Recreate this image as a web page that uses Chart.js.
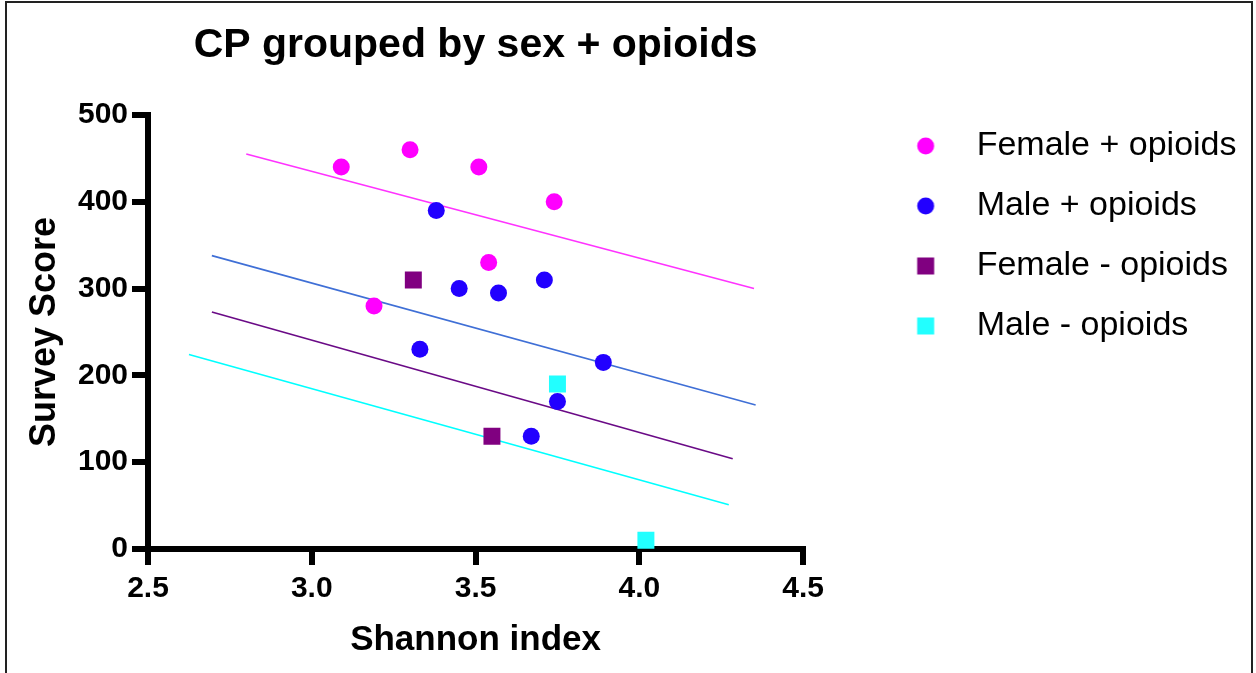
<!DOCTYPE html>
<html>
<head>
<meta charset="utf-8">
<title>CP grouped by sex + opioids</title>
<script src="https://cdn.jsdelivr.net/npm/chart.js@4/dist/chart.umd.min.js"></script>
<style>
  html, body { margin: 0; padding: 0; background: #fff; overflow: hidden; }
  #frame {
    position: absolute; left: 5px; top: 1px; width: 1244px; height: 700px;
    border: 2px solid #222; z-index: 0;
  }
  #wrap { position: absolute; left: 0; top: 0; width: 1256px; height: 673px; z-index: 1; }
</style>
</head>
<body>
<div id="frame"></div>
<div id="wrap"><canvas id="chart"></canvas></div>
<script>
// --- data ---
const seriesLabels = ['Female + opioids', 'Male + opioids', 'Female - opioids', 'Male - opioids'];

const femalePlusX = [3.09, 3.30, 3.51, 3.74, 3.54, 3.19];
const femalePlusY = [440, 460, 440, 400, 330, 280];

const malePlusX = [3.38, 3.45, 3.57, 3.71, 3.33, 3.89, 3.75, 3.67];
const malePlusY = [390, 300, 295, 310, 230, 215, 170, 130];

const femaleMinusX = [3.31, 3.55];
const femaleMinusY = [310, 130];

const maleMinusX = [3.75, 4.02];
const maleMinusY = [190, 10];

// fitted lines, end points
const fitFemalePlusX = [2.80, 4.35];
const fitFemalePlusY = [455, 300];
const fitMalePlusX = [2.695, 4.355];
const fitMalePlusY = [338, 166];
const fitFemaleMinusX = [2.695, 4.285];
const fitFemaleMinusY = [273, 104];
const fitMaleMinusX = [2.625, 4.273];
const fitMaleMinusY = [224, 51];

const xTickLabels = ['2.5', '3.0', '3.5', '4.0', '4.5'];
const yTickLabels = ['0', '100', '200', '300', '400', '500'];

// --- styles ---
const COLORS = {
  femalePlus:  '#ff00ff',
  malePlus:    '#2200ff',
  femaleMinus: '#800080',
  maleMinus:   '#22ffff',
};
const LINE_COLORS = {
  femalePlus:  '#ff33ff',
  malePlus:    '#3f6fd6',
  femaleMinus: '#6a0a86',
  maleMinus:   '#00ffff',
};
const FONT = "'Liberation Sans', Arial, Helvetica, sans-serif";

const CANVAS_W = 1256;
const PLOT_RIGHT = 802.5;
const LEGEND_FONT = 34;
const LEGEND_PAD = 26;
const LEGEND_BOX = 130.5;

const toPoints = (xs, ys) => xs.map((x, i) => ({ x, y: ys[i] }));

function scatterSet(label, xs, ys, color, style) {
  return {
    label,
    data: toPoints(xs, ys),
    backgroundColor: color,
    borderColor: color,
    borderWidth: 0,
    pointStyle: style,
    pointRadius: style === 'rect' ? 12 : 8.5,
    pointHoverRadius: style === 'rect' ? 12 : 8.5,
    showLine: false,
    order: 0,
  };
}

function fitSet(xs, ys, color) {
  return {
    label: 'fit',
    data: toPoints(xs, ys),
    borderColor: color,
    backgroundColor: color,
    borderWidth: 1.6,
    pointRadius: 0,
    pointHoverRadius: 0,
    showLine: true,
    fill: false,
    tension: 0,
    order: 10,
  };
}

// legend markers: small canvases, marker shifted right inside the box
function legendMarker(color, style) {
  const c = document.createElement('canvas');
  c.width = 84; c.height = 20;
  const g = c.getContext('2d');
  g.fillStyle = color;
  const cx = 42 + 31.25, cy = 10;
  if (style === 'rect') {
    g.fillRect(cx - 8.5, cy - 8.5, 17, 17);
  } else {
    g.beginPath();
    g.arc(cx, cy, 8.5, 0, Math.PI * 2);
    g.fill();
  }
  return c;
}

const legendMarkers = [
  legendMarker(COLORS.femalePlus, 'circle'),
  legendMarker(COLORS.malePlus, 'circle'),
  legendMarker(COLORS.femaleMinus, 'rect'),
  legendMarker(COLORS.maleMinus, 'rect'),
];

const ctx = document.getElementById('chart').getContext('2d');

// legend width follows its text, so pad the right side to keep the plot edge fixed
ctx.font = LEGEND_FONT + 'px ' + FONT;
const widestLabel = Math.max(...seriesLabels.map(t => ctx.measureText(t).width));
const legendWidth = Math.ceil(LEGEND_PAD + LEGEND_BOX + LEGEND_FONT / 2 + widestLabel + 10);
const rightPad = Math.max(0, CANVAS_W - PLOT_RIGHT - legendWidth);

new Chart(ctx, {
  type: 'scatter',
  data: {
    datasets: [
      scatterSet(seriesLabels[0], femalePlusX, femalePlusY, COLORS.femalePlus, 'circle'),
      scatterSet(seriesLabels[1], malePlusX, malePlusY, COLORS.malePlus, 'circle'),
      scatterSet(seriesLabels[2], femaleMinusX, femaleMinusY, COLORS.femaleMinus, 'rect'),
      scatterSet(seriesLabels[3], maleMinusX, maleMinusY, COLORS.maleMinus, 'rect'),
      fitSet(fitFemalePlusX, fitFemalePlusY, LINE_COLORS.femalePlus),
      fitSet(fitMalePlusX, fitMalePlusY, LINE_COLORS.malePlus),
      fitSet(fitFemaleMinusX, fitFemaleMinusY, LINE_COLORS.femaleMinus),
      fitSet(fitMaleMinusX, fitMaleMinusY, LINE_COLORS.maleMinus),
    ],
  },
  options: {
    responsive: true,
    maintainAspectRatio: false,
    animation: false,
    layout: { padding: { left: 0, top: 0, right: rightPad, bottom: 0 } },
    plugins: {
      title: {
        display: true,
        text: 'CP grouped by sex + opioids',
        color: '#000',
        fullSize: false,
        font: { family: FONT, size: 41, weight: 'bold', lineHeight: 1.2 },
        padding: { top: 21, bottom: 44.8 },
      },
      legend: {
        position: 'right',
        align: 'start',
        maxWidth: legendWidth,
        title: { display: true, text: '', font: { size: 10, lineHeight: 1.2 }, padding: { top: 91, bottom: 0 } },
        labels: {
          usePointStyle: true,
          pointStyleWidth: LEGEND_BOX,
          padding: LEGEND_PAD,
          color: '#000',
          font: { family: FONT, size: LEGEND_FONT },
          generateLabels: chart => Chart.defaults.plugins.legend.labels.generateLabels(chart)
            .filter(item => item.datasetIndex < 4)
            .map(item => Object.assign(item, { pointStyle: legendMarkers[item.datasetIndex] })),
        },
        onClick: null,
      },
      tooltip: { enabled: false },
    },
    scales: {
      x: {
        type: 'linear',
        position: 'bottom',
        min: 2.5,
        max: 4.5,
        afterFit: scale => { scale.height = 124; },
        border: { display: true, color: '#000', width: 6 },
        grid: { display: true, drawOnChartArea: false, drawTicks: true, tickLength: 16, lineWidth: 6, color: '#000' },
        ticks: {
          stepSize: 0.5,
          padding: 6,
          color: '#000',
          font: { family: FONT, size: 30, weight: 'bold' },
          callback: (v, i) => xTickLabels[i],
        },
        title: {
          display: true,
          text: 'Shannon index',
          color: '#000',
          font: { family: FONT, size: 35, weight: 'bold', lineHeight: 1.2 },
          padding: { top: 0, bottom: 11.5 },
        },
      },
      y: {
        type: 'linear',
        position: 'left',
        min: 0,
        max: 500,
        afterFit: scale => { scale.width = 148; },
        border: { display: true, color: '#000', width: 6 },
        grid: { display: true, drawOnChartArea: false, drawTicks: true, tickLength: 16, lineWidth: 6, color: '#000' },
        ticks: {
          stepSize: 100,
          padding: 4,
          color: '#000',
          font: { family: FONT, size: 30, weight: 'bold' },
          callback: (v, i) => yTickLabels[i],
        },
        title: {
          display: true,
          text: 'Survey Score',
          color: '#000',
          font: { family: FONT, size: 36, weight: 'bold', lineHeight: 1.2 },
          padding: { top: 23, bottom: 0 },
        },
      },
    },
  },
});
</script>
</body>
</html>
